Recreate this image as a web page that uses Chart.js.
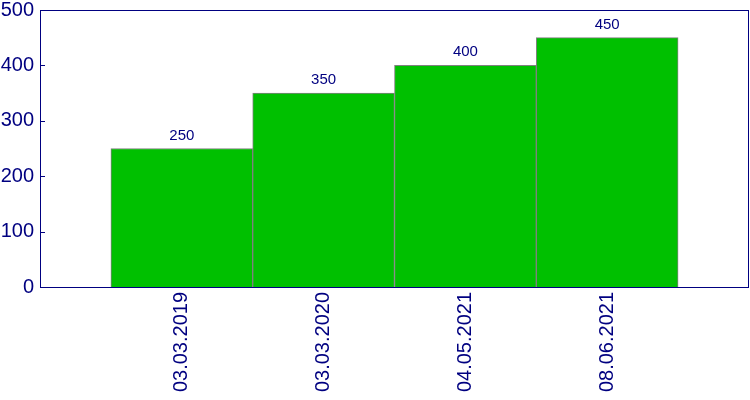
<!DOCTYPE html>
<html>
<head>
<meta charset="utf-8">
<script src="https://cdn.jsdelivr.net/npm/chart.js@4"></script>
<style>
  body { margin: 0; background: #fff; }
  #wrap { width: 750px; height: 400px; }
</style>
</head>
<body>
<div id="wrap"><canvas id="chart" width="750" height="400"></canvas></div>
<script>
const categories = ['03.03.2019', '03.03.2020', '04.05.2021', '08.06.2021'];
const values = [250, 350, 400, 450];
const yTicks = [0, 100, 200, 300, 400, 500];

const navy = '#000080';
const font = 'Liberation Sans, Arial, sans-serif';

// pad with empty slots on both sides so bars sit like the original
const labels = [''].concat(categories, ['']);
const data = [null].concat(values, [null]);

// frame, inward y ticks and value labels
const decorations = {
    id: 'decorations',
    afterDatasetsDraw(chart) {
        const ctx = chart.ctx;
        const area = chart.chartArea;
        const y = chart.scales.y;
        ctx.save();
        ctx.strokeStyle = navy;
        ctx.lineWidth = 1;
        ctx.strokeRect(area.left + 0.5, area.top + 0.5, area.right - area.left - 1, area.bottom - area.top);
        yTicks.forEach(t => {
            const py = Math.round(y.getPixelForValue(t)) + 0.5;
            ctx.beginPath();
            ctx.moveTo(area.left, py);
            ctx.lineTo(area.left + 5, py);
            ctx.stroke();
        });
        ctx.fillStyle = navy;
        ctx.font = '15px ' + font;
        ctx.textAlign = 'center';
        ctx.textBaseline = 'alphabetic';
        chart.getDatasetMeta(0).data.forEach((bar, i) => {
            if (data[i] == null) return;
            ctx.fillText(String(data[i]), bar.x, bar.y - 9);
        });
        ctx.restore();
    }
};

new Chart(document.getElementById('chart').getContext('2d'), {
    type: 'bar',
    data: {
        labels: labels,
        datasets: [{
            data: data,
            backgroundColor: '#00c000',
            borderColor: '#808080',
            borderWidth: 1,
            barPercentage: 1,
            categoryPercentage: 1
        }]
    },
    options: {
        responsive: false,
        animation: false,
        layout: { padding: { top: 10, right: 1, left: 0, bottom: 0 } },
        plugins: { legend: { display: false }, tooltip: { enabled: false } },
        scales: {
            x: {
                offset: false,
                grid: { display: false, drawTicks: false },
                border: { display: false },
                ticks: {
                    color: navy,
                    font: { family: font, size: 20 },
                    minRotation: 90,
                    maxRotation: 90,
                    autoSkip: false,
                    padding: 5
                },
                afterFit(scale) {
                    scale.height = 113;
                    scale.paddingLeft = 0;
                    scale.paddingRight = 0;
                }
            },
            y: {
                min: 0,
                max: 500,
                grid: { display: false, drawTicks: false },
                border: { display: false },
                ticks: {
                    stepSize: 100,
                    color: navy,
                    font: { family: font, size: 20 },
                    padding: 6
                },
                afterFit(scale) {
                    scale.width = 40;
                    scale.paddingTop = 0;
                    scale.paddingBottom = 0;
                }
            }
        }
    },
    plugins: [decorations]
});
</script>
</body>
</html>
